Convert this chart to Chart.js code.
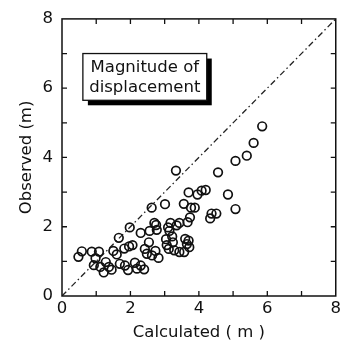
<!DOCTYPE html>
<html>
<head>
<meta charset="utf-8">
<script src="https://cdn.jsdelivr.net/npm/chart.js@4/dist/chart.umd.min.js"></script>
<style>
  html, body { margin: 0; padding: 0; background: #fff; }
  #wrap { width: 344px; height: 343px; }
</style>
</head>
<body>
<div id="wrap"><canvas id="c" width="344" height="343"></canvas></div>
<script>
// Calculated vs observed magnitude of displacement (m)
const calculated = [0.48,0.58,0.87,1.08,0.98,0.93,1.12,1.22,1.28,1.37,1.45,1.50,1.60,1.66,1.69,1.82,1.84,1.93,1.96,2.06,
  1.98,2.13,2.19,2.30,2.40,2.30,2.42,2.48,2.54,2.56,2.62,2.70,2.77,2.63,2.82,2.73,2.75,3.01,3.04,3.06,
  3.14,3.17,3.22,3.24,3.28,3.12,3.33,3.35,3.43,3.43,3.57,3.56,3.67,3.70,3.72,3.70,3.74,3.77,3.88,3.96,
  4.08,4.20,4.33,4.37,4.51,4.56,4.85,5.07,5.07,5.40,5.60,5.85,3.10,3.60,3.65];
const observed = [1.13,1.29,1.28,1.28,1.09,0.89,0.84,0.68,0.98,0.84,0.76,1.30,1.20,1.68,0.93,1.37,0.88,0.75,1.43,1.47,
  1.98,0.96,0.79,0.88,0.77,1.82,1.36,1.22,1.55,1.88,2.55,2.11,1.91,1.17,1.10,1.30,2.05,2.65,1.64,1.47,
  1.88,2.11,1.72,1.55,1.32,1.36,3.62,2.04,2.11,1.27,1.27,2.66,2.13,1.60,1.41,2.99,2.27,2.55,2.55,2.93,
  3.04,3.06,2.24,2.38,2.38,3.57,2.93,2.51,3.90,4.05,4.42,4.90,1.98,1.65,1.50];
const oneToOne = [0, 8];
const axisTicks = [0, 2, 4, 6, 8];
const boxLines = ['Magnitude of', 'displacement'];

const FONT = '"DejaVu Sans", sans-serif';
const FSIZE = 16.5;

// inward ticks on all four sides + framed note with drop shadow
const decor = {
  id: 'decor',
  afterDraw(chart) {
    const { ctx, chartArea: a, scales: { x, y } } = chart;
    ctx.save();
    ctx.strokeStyle = '#111';
    ctx.lineWidth = 1.5;
    ctx.strokeRect(a.left, a.top, a.right - a.left, a.bottom - a.top);
    ctx.lineWidth = 1.3;
    ctx.beginPath();
    for (let v = 1; v < 8; v++) {
      const px = x.getPixelForValue(v), py = y.getPixelForValue(v);
      ctx.moveTo(px, a.bottom); ctx.lineTo(px, a.bottom - 5);
      ctx.moveTo(px, a.top); ctx.lineTo(px, a.top + 5);
      ctx.moveTo(a.left, py); ctx.lineTo(a.left + 5, py);
      ctx.moveTo(a.right, py); ctx.lineTo(a.right - 5, py);
    }
    ctx.stroke();

    // note box
    const bx0 = x.getPixelForValue(0.61), bx1 = x.getPixelForValue(4.23);
    const by0 = y.getPixelForValue(7.0), by1 = y.getPixelForValue(5.65);
    ctx.fillStyle = '#000';
    ctx.fillRect(bx0 + 5, by0 + 5, bx1 - bx0, by1 - by0);
    ctx.fillStyle = '#fff';
    ctx.fillRect(bx0, by0, bx1 - bx0, by1 - by0);
    ctx.lineWidth = 1.3;
    ctx.strokeRect(bx0, by0, bx1 - bx0, by1 - by0);
    ctx.fillStyle = '#111';
    ctx.font = FSIZE + 'px ' + FONT;
    ctx.textAlign = 'center';
    ctx.textBaseline = 'middle';
    const cx = (bx0 + bx1) / 2;
    ctx.fillText(boxLines[0], cx, by0 + 14);
    ctx.fillText(boxLines[1], cx, by0 + 34);
    ctx.restore();
  }
};

new Chart(document.getElementById('c'), {
  type: 'scatter',
  data: {
    datasets: [
      {
        data: calculated.map((v, i) => ({ x: v, y: observed[i] })),
        pointStyle: 'circle',
        pointRadius: 4.3,
        pointBorderWidth: 1.7,
        pointBorderColor: '#111',
        pointBackgroundColor: 'rgba(255,255,255,0)',
        showLine: false
      },
      {
        data: oneToOne.map(v => ({ x: v, y: v })),
        showLine: true,
        pointRadius: 0,
        borderColor: '#222',
        borderWidth: 1.3,
        borderDash: [6, 3, 1.5, 3]
      }
    ]
  },
  options: {
    responsive: false,
    animation: false,
    events: [],
    layout: { padding: { top: 14, right: 6, left: 0, bottom: 0 } },
    plugins: { legend: { display: false }, tooltip: { enabled: false } },
    scales: {
      x: {
        type: 'linear', min: 0, max: 8,
        grid: { display: false, drawTicks: false },
        border: { display: false },
        afterBuildTicks: s => { s.ticks = axisTicks.map(v => ({ value: v })); },
        ticks: { color: '#111', font: { family: FONT, size: FSIZE }, padding: 3, maxRotation: 0 },
        title: { display: true, text: 'Calculated ( m )', color: '#111', font: { family: FONT, size: FSIZE }, padding: { top: 0, bottom: 0 } },
        afterFit: s => { s.height = 47; }
      },
      y: {
        type: 'linear', min: 0, max: 8,
        grid: { display: false, drawTicks: false },
        border: { display: false },
        afterBuildTicks: s => { s.ticks = axisTicks.map(v => ({ value: v })); },
        ticks: { color: '#111', font: { family: FONT, size: FSIZE }, padding: 9 },
        title: { display: true, text: 'Observed (m)', color: '#111', font: { family: FONT, size: FSIZE }, padding: { top: 17, bottom: 0 } },
        afterFit: s => { s.width = 62; }
      }
    }
  },
  plugins: [decor]
});
</script>
</body>
</html>
